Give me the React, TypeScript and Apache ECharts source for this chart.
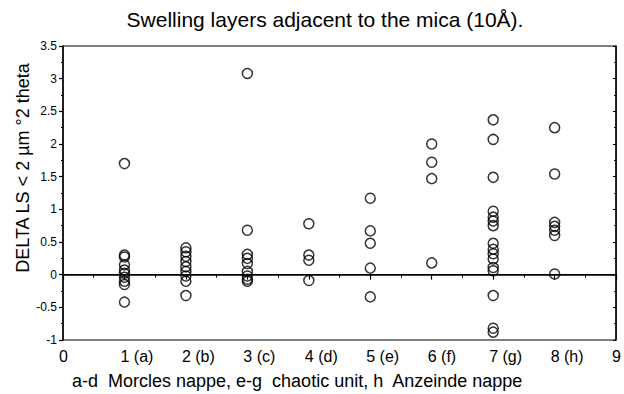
import React, { useEffect, useRef } from "react";
import * as echarts from "echarts";

const groupPositions = [1, 2, 3, 4, 5, 6, 7, 8];
const xTickLabels: Record<number, string> = {
  0: "0", 1: "1 (a)", 2: "2 (b)", 3: "3 (c)", 4: "4 (d)", 5: "5 (e)", 6: "6 (f)", 7: "7 (g)", 8: "8 (h)", 9: "9",
};
const groupA = [1.7, 0.3, 0.27, 0.15, 0.07, 0.02, -0.04, -0.1, -0.15, -0.42];
const groupB = [0.41, 0.35, 0.28, 0.2, 0.12, 0.05, -0.02, -0.1, -0.32];
const groupC = [3.08, 0.68, 0.31, 0.25, 0.17, 0.05, -0.02, -0.07, -0.1];
const groupD = [0.78, 0.3, 0.22, -0.09];
const groupE = [1.17, 0.67, 0.48, 0.1, -0.34];
const groupF = [2.0, 1.72, 1.47, 0.18];
const groupG = [2.37, 2.07, 1.49, 0.97, 0.88, 0.82, 0.75, 0.48, 0.39, 0.32, 0.24, 0.11, 0.06, -0.32, -0.82, -0.88];
const groupH = [2.25, 1.54, 0.8, 0.74, 0.68, 0.6, 0.01];
const groups = [groupA, groupB, groupC, groupD, groupE, groupF, groupG, groupH];

const titleText = "Swelling layers adjacent to the mica (10Å).";
const yName = "DELTA LS < 2 µm °2 theta";
const xName = "a-d  Morcles nappe, e-g  chaotic unit, h  Anzeinde nappe";

export default function App() {
  const ref = useRef<HTMLDivElement>(null);
  useEffect(() => {
    if (!ref.current) return;
    const chart = echarts.init(ref.current, null, { renderer: "svg" });
    const points: number[][] = [];
    groups.forEach((vals, i) => vals.forEach((v) => points.push([groupPositions[i], v])));
    const font = "Liberation Sans, Arial, sans-serif";
    chart.setOption({
      animation: false,
      backgroundColor: "#fff",
      title: {
        text: titleText,
        left: 320,
        textAlign: "center",
        top: 4,
        textStyle: { fontFamily: font, fontSize: 21, fontWeight: "normal", color: "#000" },
      },
      grid: { left: 63, right: 2, top: 46, bottom: 54, show: true, borderColor: "#000", borderWidth: 1 },
      xAxis: {
        type: "value",
        min: 0,
        max: 9,
        interval: 1,
        axisLine: { lineStyle: { color: "#000", width: 1.5 } },
        axisTick: { length: 5, lineStyle: { color: "#000", width: 1.2 } },
        minorTick: { show: true, splitNumber: 2, length: 3, lineStyle: { color: "#000" } },
        splitLine: { show: false },
        axisLabel: {
          color: "#000",
          fontFamily: font,
          fontSize: 16,
          margin: 8,
          align: "left",
          padding: [0, 0, 0, -4],
          formatter: (v: number) => xTickLabels[v] ?? "",
        },
      },
      yAxis: [
        {
          type: "value",
          min: -1,
          max: 3.5,
          interval: 0.5,
          axisLine: { lineStyle: { color: "#000", width: 1.5 } },
          axisTick: { length: 4, lineStyle: { color: "#000", width: 1.2 } },
          minorTick: { show: true, splitNumber: 2, length: 2, lineStyle: { color: "#000" } },
          splitLine: { show: false },
          axisLabel: { color: "#000", fontFamily: font, fontSize: 12, margin: 6 },
        },
        {
          type: "value",
          min: -1,
          max: 3.5,
          interval: 0.5,
          position: "right",
          axisLine: { show: true, lineStyle: { color: "#000", width: 1.5 } },
          axisTick: { inside: true, length: 3, lineStyle: { color: "#000" } },
          minorTick: { show: true, splitNumber: 2, length: 2, lineStyle: { color: "#000" } },
          splitLine: { show: false },
          axisLabel: { show: false },
        },
      ],
      graphic: [
        {
          type: "text",
          x: 23,
          y: 168,
          rotation: Math.PI / 2,
          style: {
            text: yName,
            fill: "#000",
            font: `18px ${font}`,
            textAlign: "center",
            textVerticalAlign: "middle",
          },
        },
        {
          type: "text",
          left: 72,
          top: 372,
          style: { text: xName, fill: "#000", font: `18px ${font}` },
        },
      ],
      series: [
        {
          type: "scatter",
          data: points,
          symbol: "circle",
          symbolSize: 10,
          itemStyle: { color: "transparent", borderColor: "#000", borderWidth: 1.5 },
          markLine: {
            silent: true,
            symbol: "none",
            label: { show: false },
            lineStyle: { color: "#000", width: 1, type: "solid" },
            data: [{ yAxis: 0 }],
          },
        },
      ],
    });
    return () => chart.dispose();
  }, []);
  return (
    <div
      ref={ref}
      style={{ position: "absolute", left: 0, top: 0, width: 624, height: 394 }}
    />
  );
}
